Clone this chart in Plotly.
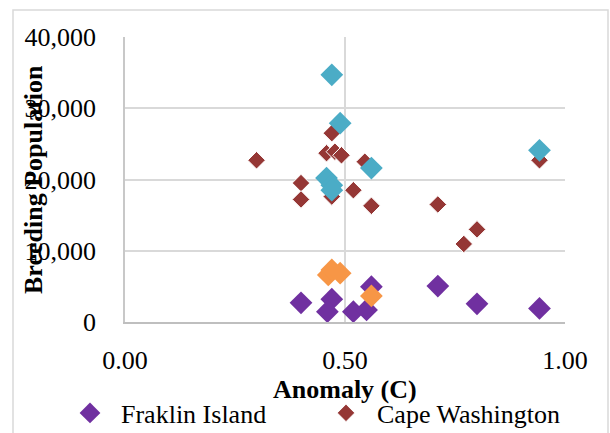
import plotly.graph_objects as go

# ---- data ----
franklin_x = [0.40, 0.47, 0.46, 0.519, 0.549, 0.56, 0.711, 0.80, 0.942]
franklin_y = [2700, 3200, 1450, 1450, 1700, 4950, 5050, 2550, 1900]

cape_wash_x = [0.299, 0.47, 0.458, 0.477, 0.492, 0.545, 0.40, 0.40, 0.47, 0.519, 0.56, 0.711, 0.80, 0.77, 0.942]
cape_wash_y = [22700, 26500, 23700, 23900, 23400, 22500, 19500, 17200, 17600, 18500, 16300, 16500, 13000, 10950, 22700]

series3_x = [0.47, 0.489, 0.458, 0.47, 0.47, 0.56, 0.942]
series3_y = [34700, 27900, 20200, 19200, 18500, 21600, 24100]

series4_x = [0.462, 0.47, 0.489, 0.56]
series4_y = [6600, 7300, 6850, 3650]

x_ticks = [0.0, 0.5, 1.0]
y_ticks = [0, 10000, 20000, 30000, 40000]

FONT = "Liberation Serif"

fig = go.Figure()
fig.add_trace(go.Scatter(x=franklin_x, y=franklin_y, mode="markers", name="Fraklin Island",
                         marker=dict(symbol="diamond", size=17.5, color="#7030a0")))
fig.add_trace(go.Scatter(x=cape_wash_x, y=cape_wash_y, mode="markers", name="Cape Washington",
                         marker=dict(symbol="diamond", size=13.5, color="#953735",
                                     line=dict(color="white", width=1))))
fig.add_trace(go.Scatter(x=series3_x, y=series3_y, mode="markers", name="Series 3", showlegend=False,
                         marker=dict(symbol="diamond", size=17.5, color="#4bacc6")))
fig.add_trace(go.Scatter(x=series4_x, y=series4_y, mode="markers", name="Series 4", showlegend=False,
                         marker=dict(symbol="diamond", size=17.5, color="#f79646")))

W, H = 610, 433
L, R, T, B = 125, 565, 37, 322
pw, ph = R - L, B - T

def px_x(p):
    return (p - L) / pw

def px_y(p):
    return (B - p) / ph

fig.update_layout(
    width=W, height=H,
    margin=dict(l=L, r=W - R, t=T, b=H - B, autoexpand=False),
    paper_bgcolor="white", plot_bgcolor="white",
    font=dict(family=FONT, size=26, color="black"),
    xaxis=dict(range=[0, 1], tickvals=x_ticks, tickformat=".2f", automargin=False,
               showgrid=True, gridcolor="#d9d9d9", gridwidth=1.5,
               showline=True, linecolor="#bfbfbf", linewidth=1.5,
               zeroline=False, ticks="", ticklabelstandoff=14,
               tickfont=dict(family=FONT, size=26)),
    yaxis=dict(range=[0, 40000], tickvals=y_ticks, tickformat=",", automargin=False,
               showgrid=True, gridcolor="#d9d9d9", gridwidth=1.5,
               showline=True, linecolor="#c8c8c8", linewidth=1.5,
               zeroline=False, ticks="", ticklabelstandoff=22,
               tickfont=dict(family=FONT, size=26)),
    showlegend=True,
    legend=dict(orientation="h", x=px_x(59), y=px_y(413), xanchor="left", yanchor="middle",
                font=dict(family=FONT, size=26, color="black"), itemwidth=52, entrywidth=189,
                bgcolor="rgba(0,0,0,0)"),
    shapes=[dict(type="rect", xref="paper", yref="paper",
                 x0=px_x(13), x1=px_x(608), y0=px_y(460), y1=px_y(10),
                 line=dict(color="#d9d9d9", width=1.5), fillcolor="rgba(0,0,0,0)", layer="below")],
    annotations=[
        dict(text="<b>Anomaly (C)</b>", xref="paper", yref="paper", x=0.5, y=px_y(389),
             xanchor="center", yanchor="middle", showarrow=False, font=dict(family=FONT, size=26)),
        dict(text="<b>Breeding Population</b>", xref="paper", yref="paper", x=px_x(33), y=px_y(180),
             xanchor="center", yanchor="middle", textangle=-90, showarrow=False,
             font=dict(family=FONT, size=26)),
    ],
)

fig.write_html("out.html", config={"displayModeBar": False},
               post_script="document.body.style.margin='0';document.body.style.overflow='hidden';")
